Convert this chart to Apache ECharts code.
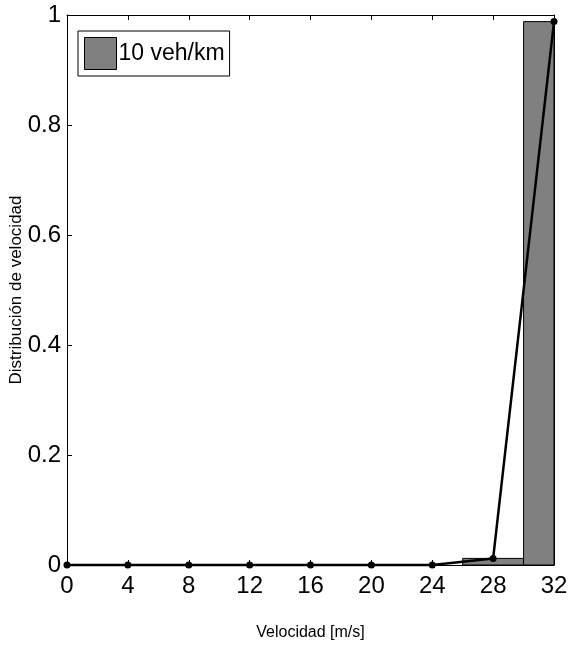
<!DOCTYPE html>
<html>
<head>
<meta charset="utf-8">
<script src="https://cdn.jsdelivr.net/npm/echarts@6/dist/echarts.min.js"></script>
<style>html,body{margin:0;padding:0;background:#fff}#c{width:568px;height:646px}</style>
</head>
<body>
<div id="c"></div>
<script>
var speeds = [0, 4, 8, 12, 16, 20, 24, 28, 32];
var dist = [0, 0, 0, 0, 0, 0, 0, 0.012, 0.988];
var binWidth = 4;
var seriesName = '10 veh/km';
var xTicks = [0, 4, 8, 12, 16, 20, 24, 28, 32];
var yTicks = [0, 0.2, 0.4, 0.6, 0.8, 1];

var FONT = '"Liberation Sans Narrow","Liberation Sans",Arial,sans-serif';
var chart = echarts.init(document.getElementById('c'));
var barData = speeds.map(function (s, i) { return [s, dist[i]]; });

var axisCommon = {
  axisLine: { show: true, onZero: false, lineStyle: { color: '#000', width: 1 } },
  axisTick: { show: true, inside: true, length: 5, lineStyle: { color: '#000' } },
  splitLine: { show: false }
};

chart.setOption({
  animation: false,
  backgroundColor: '#fff',
  grid: { left: 67, right: 14, top: 15, bottom: 81, containLabel: false, outerBoundsMode: 'none' },
  legend: {
    data: [{ name: seriesName, icon: 'rect' }],
    left: 78, top: 31,
    itemWidth: 32, itemHeight: 32, itemGap: 4,
    padding: [6, 5, 6, 6],
    borderColor: '#000', borderWidth: 1, backgroundColor: '#fff',
    itemStyle: { borderColor: '#000', borderWidth: 1 },
    textStyle: { fontFamily: FONT, fontSize: 23, color: '#000', padding: [0, 0, 0, -3] }
  },
  xAxis: [
    Object.assign({
      type: 'value', min: 0, max: 32, interval: 4,
      name: 'Velocidad [m/s]', nameLocation: 'middle', nameGap: 60,
      nameTextStyle: { fontFamily: FONT, fontSize: 16, color: '#000' },
      axisLabel: { fontFamily: FONT, fontSize: 24, color: '#000', margin: 9 }
    }, axisCommon),
    Object.assign({
      type: 'value', min: 0, max: 32, interval: 4, position: 'top',
      axisLabel: { show: false }
    }, axisCommon)
  ],
  yAxis: [
    Object.assign({
      type: 'value', min: 0, max: 1, interval: 0.2,
      name: 'Distribución de velocidad', nameLocation: 'middle', nameGap: 42,
      nameMoveOverlap: false,
      nameTextStyle: { fontFamily: 'Liberation Sans,Arial,sans-serif', fontSize: 17, color: '#000' },
      axisLabel: { fontFamily: FONT, fontSize: 24, color: '#000', margin: 6 }
    }, axisCommon),
    Object.assign({
      type: 'value', min: 0, max: 1, interval: 0.2, position: 'right',
      axisLabel: { show: false }
    }, axisCommon)
  ],
  series: [
    {
      name: seriesName,
      type: 'custom',
      xAxisIndex: 0, yAxisIndex: 0,
      data: barData,
      itemStyle: { color: '#808080', borderColor: '#000', borderWidth: 1 },
      renderItem: function (params, api) {
        var x = api.value(0), y = api.value(1);
        if (y <= 0) return null;
        var p0 = api.coord([x - binWidth / 2, y]);
        var p1 = api.coord([x + binWidth / 2, 0]);
        var shape = echarts.graphic.clipRectByRect(
          { x: p0[0], y: p0[1], width: p1[0] - p0[0], height: p1[1] - p0[1] },
          { x: params.coordSys.x, y: params.coordSys.y, width: params.coordSys.width, height: params.coordSys.height }
        );
        if (!shape) return null;
        return {
          type: 'rect', shape: shape,
          style: { fill: '#808080', stroke: '#000', lineWidth: 1 }
        };
      },
      z: 2
    },
    {
      name: 'line',
      type: 'line',
      xAxisIndex: 0, yAxisIndex: 0,
      data: barData,
      symbol: 'circle', symbolSize: 7,
      lineStyle: { color: '#000', width: 2.5 },
      itemStyle: { color: '#000' },
      clip: false,
      z: 3
    }
  ]
});
</script>
</body>
</html>
